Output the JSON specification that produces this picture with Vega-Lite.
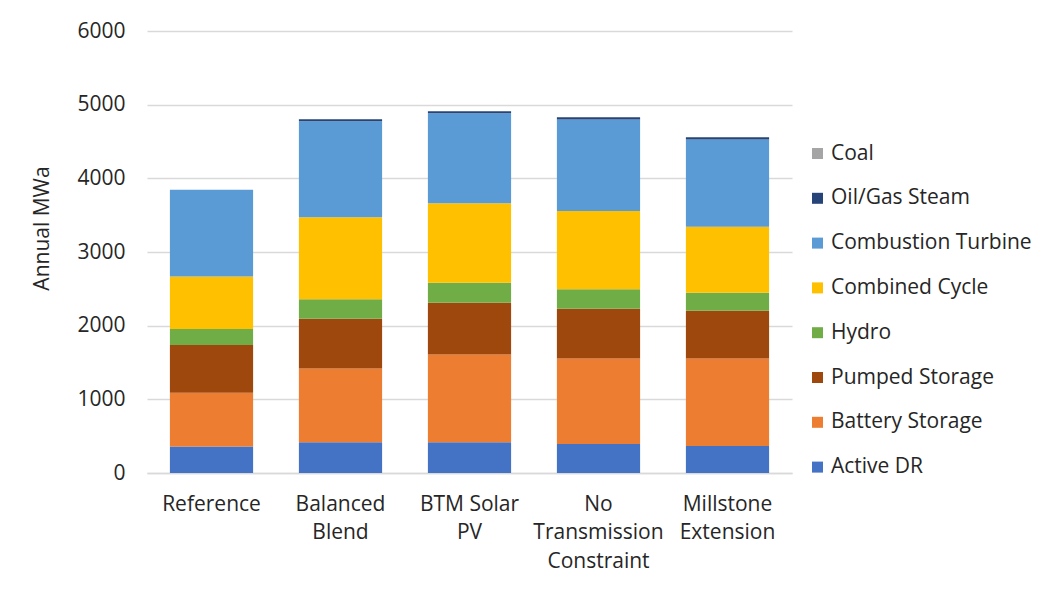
{
  "$schema": "https://vega.github.io/schema/vega-lite/v6.json",
  "autosize": "none",
  "width": 645,
  "height": 442,
  "padding": {"left": 147, "top": 31, "right": 253, "bottom": 143},
  "background": "white",
  "config": {
    "font": "Open Sans",
    "view": {"stroke": null},
    "axis": {"labelFont": "Open Sans", "titleFont": "Open Sans", "labelColor": "#262626", "titleColor": "#262626"},
    "legend": {"labelFont": "Open Sans", "labelColor": "#262626"}
  },
  "data": {
    "values": [
      {"scenario": "Reference", "source": "Active DR", "mwa": 360},
      {"scenario": "Reference", "source": "Battery Storage", "mwa": 729},
      {"scenario": "Reference", "source": "Pumped Storage", "mwa": 649},
      {"scenario": "Reference", "source": "Hydro", "mwa": 216},
      {"scenario": "Reference", "source": "Combined Cycle", "mwa": 712},
      {"scenario": "Reference", "source": "Combustion Turbine", "mwa": 1180},
      {"scenario": "Reference", "source": "Oil/Gas Steam", "mwa": 0},
      {"scenario": "Reference", "source": "Coal", "mwa": 0},
      {"scenario": "Balanced Blend", "source": "Active DR", "mwa": 419},
      {"scenario": "Balanced Blend", "source": "Battery Storage", "mwa": 1000},
      {"scenario": "Balanced Blend", "source": "Pumped Storage", "mwa": 676},
      {"scenario": "Balanced Blend", "source": "Hydro", "mwa": 265},
      {"scenario": "Balanced Blend", "source": "Combined Cycle", "mwa": 1113},
      {"scenario": "Balanced Blend", "source": "Combustion Turbine", "mwa": 1302},
      {"scenario": "Balanced Blend", "source": "Oil/Gas Steam", "mwa": 26},
      {"scenario": "Balanced Blend", "source": "Coal", "mwa": 0},
      {"scenario": "BTM Solar PV", "source": "Active DR", "mwa": 419},
      {"scenario": "BTM Solar PV", "source": "Battery Storage", "mwa": 1189},
      {"scenario": "BTM Solar PV", "source": "Pumped Storage", "mwa": 703},
      {"scenario": "BTM Solar PV", "source": "Hydro", "mwa": 270},
      {"scenario": "BTM Solar PV", "source": "Combined Cycle", "mwa": 1081},
      {"scenario": "BTM Solar PV", "source": "Combustion Turbine", "mwa": 1221},
      {"scenario": "BTM Solar PV", "source": "Oil/Gas Steam", "mwa": 27},
      {"scenario": "BTM Solar PV", "source": "Coal", "mwa": 0},
      {"scenario": "No Transmission Constraint", "source": "Active DR", "mwa": 392},
      {"scenario": "No Transmission Constraint", "source": "Battery Storage", "mwa": 1162},
      {"scenario": "No Transmission Constraint", "source": "Pumped Storage", "mwa": 676},
      {"scenario": "No Transmission Constraint", "source": "Hydro", "mwa": 265},
      {"scenario": "No Transmission Constraint", "source": "Combined Cycle", "mwa": 1063},
      {"scenario": "No Transmission Constraint", "source": "Combustion Turbine", "mwa": 1239},
      {"scenario": "No Transmission Constraint", "source": "Oil/Gas Steam", "mwa": 32},
      {"scenario": "No Transmission Constraint", "source": "Coal", "mwa": 0},
      {"scenario": "Millstone Extension", "source": "Active DR", "mwa": 365},
      {"scenario": "Millstone Extension", "source": "Battery Storage", "mwa": 1189},
      {"scenario": "Millstone Extension", "source": "Pumped Storage", "mwa": 649},
      {"scenario": "Millstone Extension", "source": "Hydro", "mwa": 243},
      {"scenario": "Millstone Extension", "source": "Combined Cycle", "mwa": 896},
      {"scenario": "Millstone Extension", "source": "Combustion Turbine", "mwa": 1185},
      {"scenario": "Millstone Extension", "source": "Oil/Gas Steam", "mwa": 31},
      {"scenario": "Millstone Extension", "source": "Coal", "mwa": 0}
    ]
  },
  "transform": [
    {"calculate": "indexof(['Active DR', 'Battery Storage', 'Pumped Storage', 'Hydro', 'Combined Cycle', 'Combustion Turbine', 'Oil/Gas Steam', 'Coal'], datum.source)", "as": "stack_rank"}
  ],
  "mark": {"type": "bar"},
  "encoding": {
    "x": {
      "field": "scenario",
      "type": "nominal",
      "sort": null,
      "scale": {"paddingInner": 0.355, "paddingOuter": 0.1775},
      "axis": {
        "title": null,
        "labelAngle": 0,
        "labelFontSize": 21,
        "labelLineHeight": 28.5,
        "labelPadding": 20,
        "labelBaseline": "top",
        "ticks": false,
        "domainColor": "#D9D9D9",
        "domainWidth": 1.5,
        "labelExpr": "datum.label == 'BTM Solar PV' ? ['BTM Solar', 'PV'] : datum.label == 'No Transmission Constraint' ? ['No', 'Transmission', 'Constraint'] : split(datum.label, ' ')"
      }
    },
    "y": {
      "field": "mwa",
      "type": "quantitative",
      "stack": "zero",
      "scale": {"domain": [0, 6000], "nice": false},
      "axis": {
        "title": "Annual MWa",
        "titleFontSize": 21,
        "titleFontWeight": "normal",
        "titleX": -105,
        "titleY": 197,
        "titleAngle": -90,
        "titleAlign": "center",
        "titleBaseline": "middle",
        "labelFontSize": 21,
        "labelPadding": 22,
        "format": "d",
        "values": [0, 1000, 2000, 3000, 4000, 5000, 6000],
        "ticks": false,
        "domain": false,
        "gridColor": "#D9D9D9",
        "gridWidth": 1.5
      }
    },
    "order": {"field": "stack_rank", "type": "quantitative", "sort": "ascending"},
    "color": {
      "field": "source",
      "type": "nominal",
      "scale": {
        "domain": ["Active DR", "Battery Storage", "Pumped Storage", "Hydro", "Combined Cycle", "Combustion Turbine", "Oil/Gas Steam", "Coal"],
        "range": ["#4472C4", "#ED7D31", "#9E480E", "#70AD47", "#FFC000", "#5B9BD5", "#264478", "#A5A5A5"]
      },
      "legend": {
        "title": null,
        "orient": "none",
        "legendX": 660,
        "legendY": 112,
        "padding": 0,
        "values": ["Coal", "Oil/Gas Steam", "Combustion Turbine", "Combined Cycle", "Hydro", "Pumped Storage", "Battery Storage", "Active DR"],
        "symbolType": "square",
        "symbolSize": 121,
        "symbolStrokeWidth": 0,
        "labelFontSize": 21,
        "labelOffset": 3,
        "rowPadding": 22.8,
        "labelLimit": 400
      }
    }
  }
}
